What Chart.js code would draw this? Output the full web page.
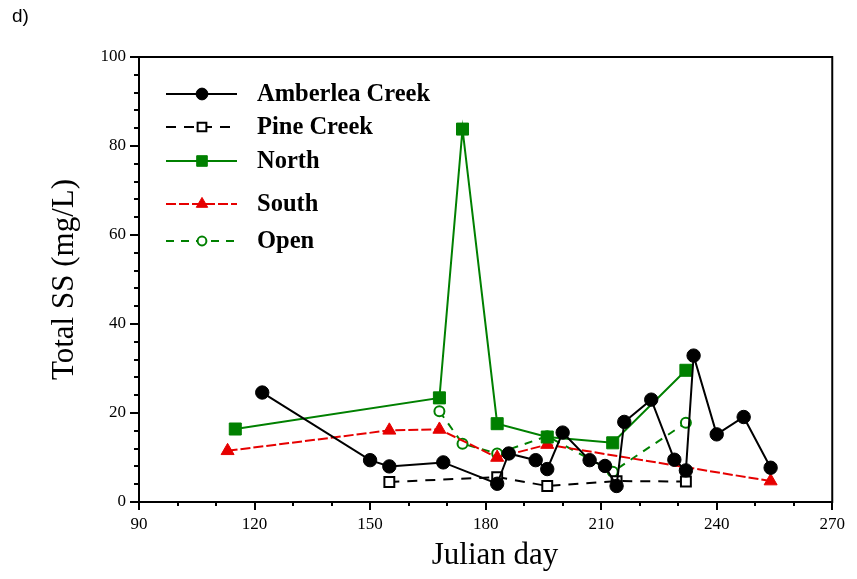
<!DOCTYPE html>
<html>
<head>
<meta charset="utf-8">
<title>Total SS by Julian day</title>
<script src="https://cdn.jsdelivr.net/npm/chart.js@4/dist/chart.umd.min.js"></script>
<style>
    body { margin: 0; background: #fff; }
    #wrap { position: relative; width: 857px; height: 579px; }
    #tag { position: absolute; left: 12px; top: 5px; font: 19px "Liberation Sans", Arial, sans-serif; color: #000; }
</style>
</head>
<body>
<div id="wrap">
    <canvas id="chart" width="857" height="579"></canvas>
    <div id="tag">d)</div>
</div>
<script>
// Julian day / total suspended solids (mg/L) per site
const amberleaDays = [122, 150, 155, 169, 183, 186, 193, 196, 200, 207, 211, 214, 216, 223, 229, 232, 234, 240, 247, 254];
const amberleaSS   = [24.6, 9.4, 8.0, 8.9, 4.1, 10.9, 9.4, 7.4, 15.6, 9.4, 8.1, 3.6, 18.0, 23.0, 9.5, 7.1, 32.9, 15.2, 19.1, 7.7];

const pineDays = [155, 183, 196, 214, 232];
const pineSS   = [4.5, 5.6, 3.6, 4.7, 4.6];

const northDays = [115, 168, 174, 183, 196, 213, 232];
const northSS   = [16.4, 23.4, 83.8, 17.6, 14.6, 13.3, 29.6];

const southDays = [113, 155, 168, 183, 196, 254];
const southSS   = [11.5, 16.1, 16.3, 10.0, 12.9, 4.7];

const openDays = [168, 174, 183, 196, 213, 232];
const openSS   = [20.4, 13.1, 10.9, 14.8, 6.8, 17.8];

const xTicks = [90, 120, 150, 180, 210, 240, 270];
const yTicks = [0, 20, 40, 60, 80, 100];

const GREEN = "#008000";
const RED = "#e60000";
const serif = "'Liberation Serif', 'Times New Roman', serif";

function pts(days, vals) {
    return days.map((d, i) => ({ x: d, y: vals[i] }));
}

// box around the plot, major/minor tick marks and the x title
const framePlugin = {
    id: "frame",
    beforeDatasetsDraw(chart) {
        const { ctx, chartArea: a } = chart;
        const x = chart.scales.x, y = chart.scales.y;
        ctx.save();
        ctx.strokeStyle = "#000";
        ctx.lineWidth = 2;
        ctx.strokeRect(a.left, a.top, a.right - a.left, a.bottom - a.top);
        ctx.beginPath();
        for (let v = x.min; v <= x.max; v += 10) {
            const px = Math.round(x.getPixelForValue(v));
            const len = xTicks.includes(v) ? 8 : 4;
            ctx.moveTo(px, a.bottom);
            ctx.lineTo(px, a.bottom + len);
        }
        for (let v = y.min; v <= y.max; v += 4) {
            const py = Math.round(y.getPixelForValue(v));
            const len = yTicks.includes(v) ? 9 : 5;
            ctx.moveTo(a.left, py);
            ctx.lineTo(a.left - len, py);
        }
        ctx.stroke();

        ctx.fillStyle = "#000";
        ctx.font = "31px " + serif;
        ctx.textAlign = "center";
        ctx.textBaseline = "middle";
        ctx.fillText("Julian day", 495, 556);
        ctx.restore();
    }
};

// legend inside the plot, line sample with marker in the middle
const legendPlugin = {
    id: "insideLegend",
    afterDraw(chart) {
        const ctx = chart.ctx;
        const rows = [94, 127, 161, 204, 241];
        chart.data.datasets.forEach((ds, i) => {
            const yy = rows[i];
            ctx.save();
            ctx.strokeStyle = ds.borderColor;
            ctx.lineWidth = ds.borderWidth;
            ctx.setLineDash(ds.borderDash || []);
            ctx.beginPath();
            ctx.moveTo(166, yy);
            ctx.lineTo(237, yy);
            ctx.stroke();
            ctx.setLineDash([]);
            ctx.fillStyle = ds.pointBackgroundColor;
            ctx.strokeStyle = ds.pointBorderColor;
            ctx.lineWidth = ds.pointBorderWidth;
            Chart.helpers.drawPoint(ctx, {
                pointStyle: ds.pointStyle,
                radius: ds.pointRadius * 0.88,
                borderWidth: ds.pointBorderWidth,
                rotation: 0
            }, 202, yy);
            ctx.fillStyle = "#000";
            ctx.font = "bold 24.5px " + serif;
            ctx.textBaseline = "middle";
            ctx.fillText(ds.label, 257, yy + 1);
            ctx.restore();
        });
    }
};

const ctx = document.getElementById("chart").getContext("2d");

new Chart(ctx, {
    type: "line",
    data: {
        datasets: [
            {
                label: "Amberlea Creek",
                data: pts(amberleaDays, amberleaSS),
                borderColor: "#000", borderWidth: 2,
                pointStyle: "circle", pointRadius: 6.7, pointBorderWidth: 1,
                pointBackgroundColor: "#000", pointBorderColor: "#000"
            },
            {
                label: "Pine Creek",
                data: pts(pineDays, pineSS),
                borderColor: "#000", borderWidth: 2, borderDash: [10, 8],
                pointStyle: "rect", pointRadius: 7, pointBorderWidth: 2,
                pointBackgroundColor: "#fff", pointBorderColor: "#000"
            },
            {
                label: "North",
                data: pts(northDays, northSS),
                borderColor: GREEN, borderWidth: 2,
                pointStyle: "rect", pointRadius: 8.5, pointBorderWidth: 1,
                pointBackgroundColor: GREEN, pointBorderColor: GREEN
            },
            {
                label: "South",
                data: pts(southDays, southSS),
                borderColor: RED, borderWidth: 2, borderDash: [10, 3],
                pointStyle: "triangle", pointRadius: 7.5, pointBorderWidth: 1,
                pointBackgroundColor: RED, pointBorderColor: RED
            },
            {
                label: "Open",
                data: pts(openDays, openSS),
                borderColor: GREEN, borderWidth: 2, borderDash: [8, 7],
                pointStyle: "circle", pointRadius: 5, pointBorderWidth: 2,
                pointBackgroundColor: "#fff", pointBorderColor: GREEN
            }
        ]
    },
    options: {
        responsive: false,
        animation: false,
        events: [],
        layout: { padding: { top: 57, right: 22, left: 0, bottom: 0 } },
        plugins: {
            legend: { display: false },
            tooltip: { enabled: false }
        },
        elements: { line: { tension: 0, fill: false } },
        scales: {
            x: {
                type: "linear",
                min: 90,
                max: 270,
                grid: { display: false, drawTicks: false },
                border: { display: false },
                afterBuildTicks: s => { s.ticks = xTicks.map(v => ({ value: v })); },
                ticks: {
                    padding: 12, maxRotation: 0, color: "#000",
                    font: { family: serif, size: 17 }
                },
                afterFit: s => { s.height = 77; }
            },
            y: {
                min: 0,
                max: 100,
                grid: { display: false, drawTicks: false },
                border: { display: false },
                afterBuildTicks: s => { s.ticks = yTicks.map(v => ({ value: v })); },
                ticks: {
                    padding: 13, color: "#000",
                    font: { family: serif, size: 17 }
                },
                title: {
                    display: true, text: "Total SS (mg/L)", color: "#000",
                    font: { family: serif, size: 31 },
                    padding: { top: 46, bottom: 0 }
                },
                afterFit: s => { s.width = 139; }
            }
        }
    },
    plugins: [framePlugin, legendPlugin]
});
</script>
</body>
</html>
